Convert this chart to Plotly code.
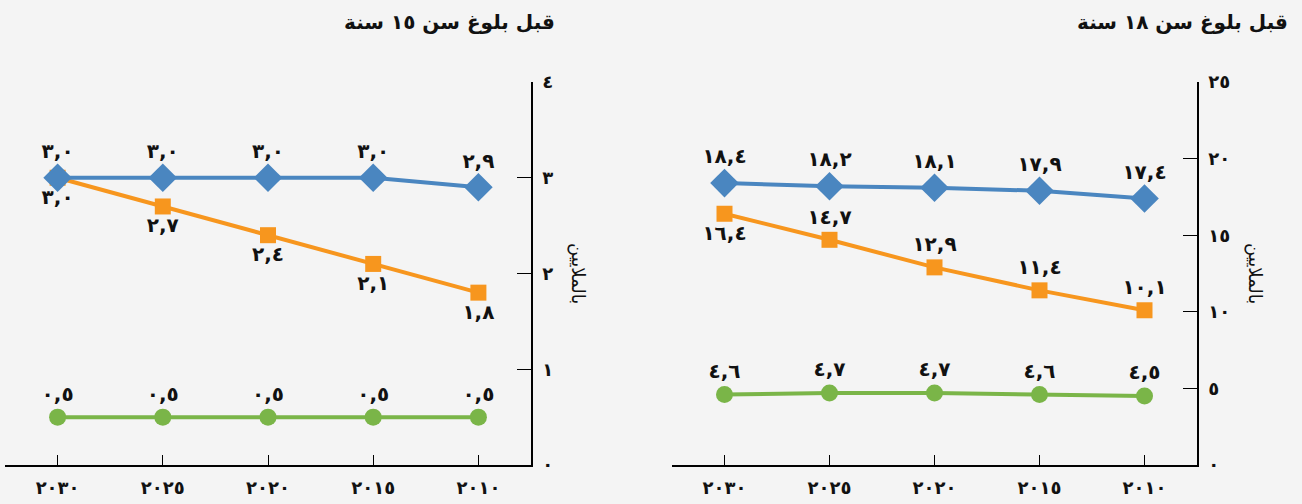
import plotly.graph_objects as go

years = [2010, 2015, 2020, 2025, 2030]

# Panel: before age 18
u18_blue = [17.4, 17.9, 18.1, 18.2, 18.4]
u18_orange = [10.1, 11.4, 12.9, 14.7, 16.4]
u18_green = [4.5, 4.6, 4.7, 4.7, 4.6]
u18_orange_pos = ["top center", "top center", "top center", "top center", "bottom center"]

# Panel: before age 15
u15_blue = [2.9, 3.0, 3.0, 3.0, 3.0]
u15_orange = [1.8, 2.1, 2.4, 2.7, 3.0]
u15_green = [0.5, 0.5, 0.5, 0.5, 0.5]
u15_orange_pos = ["bottom center"] * 5

u18_ticks = [0, 5, 10, 15, 20, 25]
u15_ticks = [0, 1, 2, 3, 4]

title_18 = "قبل بلوغ سن ١٨ سنة"
title_15 = "قبل بلوغ سن ١٥ سنة"
y_title = "بالملايين"

DIG = str.maketrans("0123456789", "٠١٢٣٤٥٦٧٨٩")


def ar(s):
    return str(s).translate(DIG)


def lab(v):
    return ar(f"{v:.1f}").replace(".", ",")


BLUE = "#4a86c0"
ORANGE = "#f7961e"
GREEN = "#7ab548"
BG = "#f4f4f4"
FONT = "DejaVu Sans"

fig = go.Figure()


def add_series(xa, ya, vals, color, symbol, size, pos):
    fig.add_trace(go.Scatter(
        x=years, y=vals, xaxis=xa, yaxis=ya, mode="lines+markers+text",
        line=dict(color=color, width=4),
        marker=dict(symbol=symbol, size=size, color=color),
        text=[lab(v) for v in vals], textposition=pos,
        textfont=dict(family=FONT, size=20, color="#111", weight="bold"),
        cliponaxis=False, showlegend=False, hoverinfo="skip"))


# left panel (x, y)
add_series("x", "y", u15_green, GREEN, "circle", 17, "top center")
add_series("x", "y", u15_orange, ORANGE, "square", 16, u15_orange_pos)
add_series("x", "y", u15_blue, BLUE, "diamond", 22, "top center")
# right panel (x2, y2)
add_series("x2", "y2", u18_green, GREEN, "circle", 17, "top center")
add_series("x2", "y2", u18_orange, ORANGE, "square", 16, u18_orange_pos)
add_series("x2", "y2", u18_blue, BLUE, "diamond", 22, "top center")

W, H = 1302, 504
T, B = 82, 39
ph = H - T - B

xcommon = dict(range=[2032.5, 2007.5], tickvals=years, ticktext=[ar(y) for y in years],
               showline=True, linecolor="#000", linewidth=1.5, ticks="inside",
               ticklen=10, tickcolor="#000", showgrid=False, zeroline=False,
               ticklabelstandoff=6,
               tickfont=dict(family=FONT, size=18, color="#111", weight="bold"))


def ycommon(ticks, anchor):
    return dict(range=[0, ticks[-1]], tickvals=ticks, ticktext=[ar(t) for t in ticks],
                side="right", anchor=anchor, showline=True, linecolor="#000", linewidth=1.5,
                ticks="inside", ticklen=14, tickcolor="#000", showgrid=False, zeroline=False,
                ticklabelstandoff=6,
                tickfont=dict(family=FONT, size=18, color="#111", weight="bold"))


fig.update_layout(
    width=W, height=H, paper_bgcolor=BG, plot_bgcolor=BG,
    margin=dict(l=0, r=0, t=T, b=B),
    xaxis=dict(domain=[5 / W, 531 / W], anchor="y", **xcommon),
    xaxis2=dict(domain=[672 / W, 1197 / W], anchor="y2", **xcommon),
    yaxis=ycommon(u15_ticks, "x"),
    yaxis2=ycommon(u18_ticks, "x2"),
)

annots = [
    dict(text=title_18, x=1290 / W, y=(465 - 22) / ph, xanchor="right", yanchor="middle",
         font=dict(family=FONT, size=20, color="#111", weight="bold")),
    dict(text=title_15, x=557 / W, y=(465 - 22) / ph, xanchor="right", yanchor="middle",
         font=dict(family=FONT, size=20, color="#111", weight="bold")),
    dict(text=y_title, x=1255 / W, y=(465 - 273) / ph, textangle=90, xanchor="center",
         yanchor="middle", font=dict(family=FONT, size=18, color="#111")),
    dict(text=y_title, x=578 / W, y=(465 - 273) / ph, textangle=90, xanchor="center",
         yanchor="middle", font=dict(family=FONT, size=18, color="#111")),
]
for a in annots:
    fig.add_annotation(xref="paper", yref="paper", showarrow=False, **a)

fig.write_html("out.html")
